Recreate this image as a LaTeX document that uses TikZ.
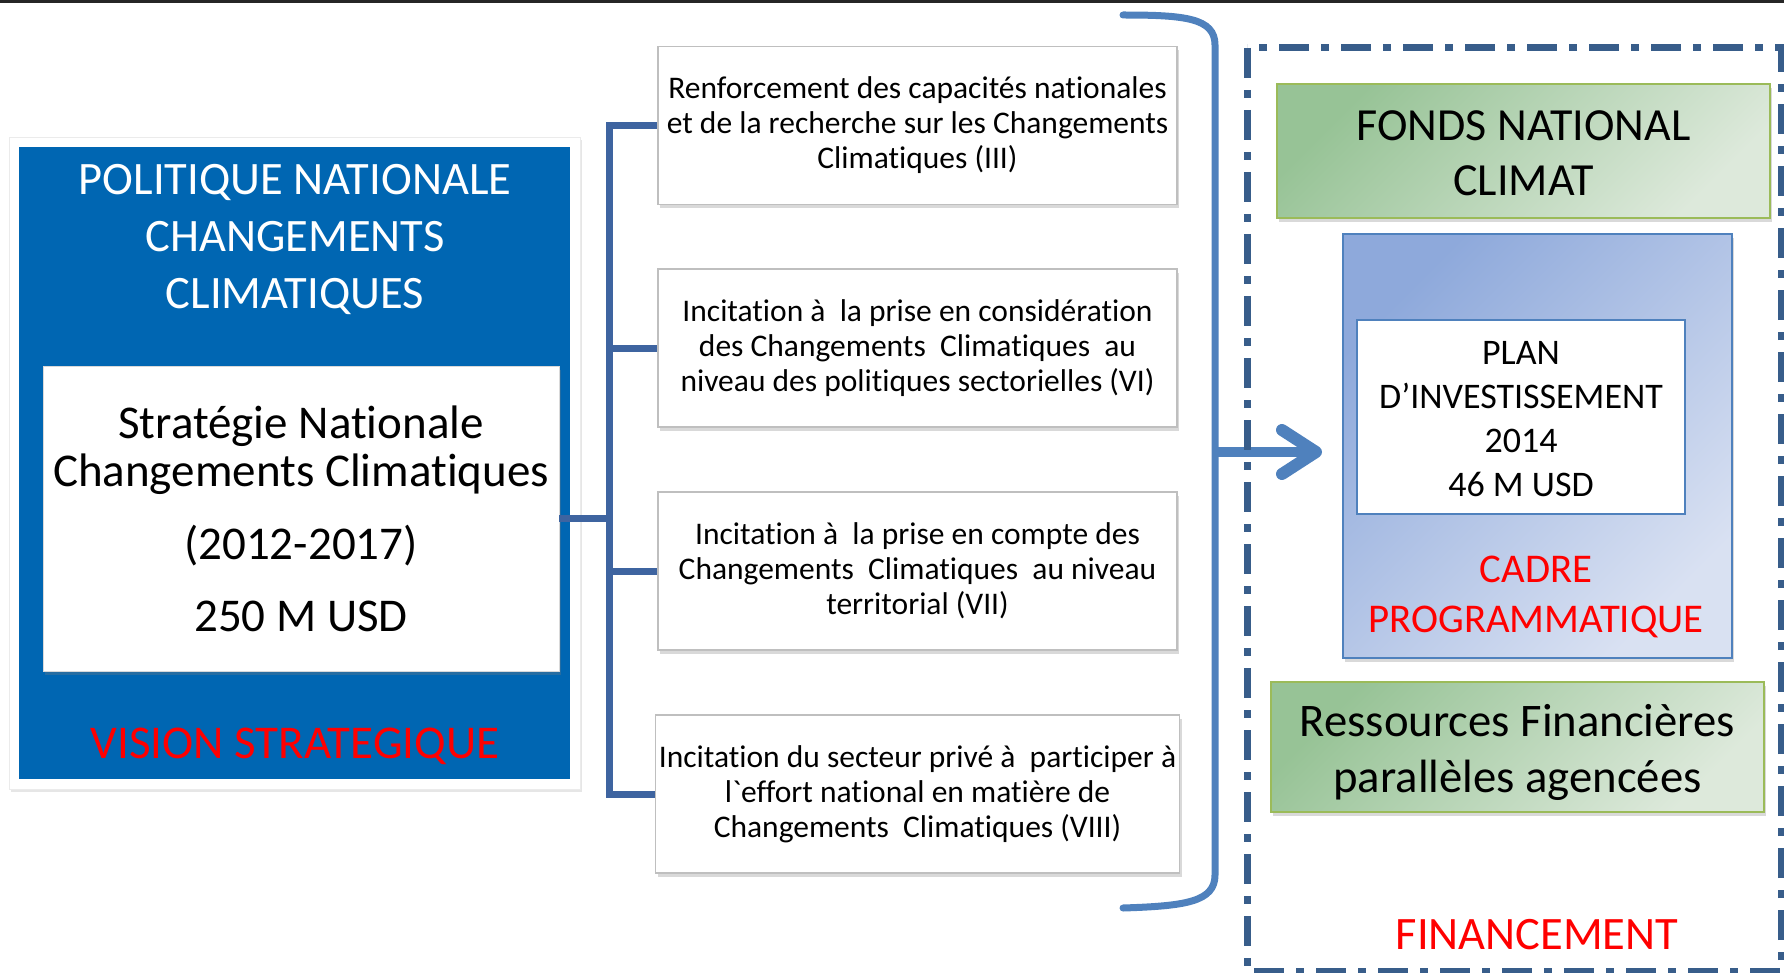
\documentclass[tikz,border=0pt]{standalone}
\usepackage{fontspec}
\setmainfont{Carlito}[Ligatures={TeXOff,CommonOff}]
\usetikzlibrary{arrows.meta,shadows,calc,positioning}

\definecolor{polblue}{HTML}{0066B2}
\definecolor{linkblue}{HTML}{3E64A0}
\definecolor{brblue}{HTML}{4F81BD}
\definecolor{dashblue}{HTML}{385D8A}
\definecolor{greenA}{HTML}{97C396}
\definecolor{greenB}{HTML}{DDE9DB}
\definecolor{greenedge}{HTML}{9BBB59}
\definecolor{cadreA}{HTML}{8EA9DB}
\definecolor{cadreB}{HTML}{D9E1F2}
\definecolor{vred}{HTML}{FF0000}

\begin{document}
\begin{tikzpicture}[x=1pt,y=-1pt,
    softshadow/.style={drop shadow={shadow xshift=2pt,shadow yshift=-4pt,opacity=0.3}},
    axebox/.style={draw=black!25,fill=white,line width=1.2pt,softshadow,
        minimum width=519pt,minimum height=158pt,align=center,
        font=\fontsize{31.5}{35}\selectfont},
    fundbox/.style={draw=greenedge,line width=2pt,top color=greenA,bottom color=greenB,
        shading angle=45,softshadow,minimum width=493pt},
    boxtext/.style={align=center,font=\fontsize{46}{55}\selectfont},
    redlabel/.style={text=vred,align=center},
    link/.style={draw=linkblue,line width=7pt},
    bracket/.style={draw=brblue,line width=7pt,line cap=round}]
       \useasboundingbox (0,0) rectangle (1784,973);
       \fill[black!85] (0,0) rectangle (1784,3);
       % vision strategique
       \node[draw=black!8,fill=white,minimum width=571pt,minimum height=652pt,
             drop shadow={shadow xshift=2pt,shadow yshift=-3pt,opacity=0.2}] (frame) at (294.5,463) {};
       \node[fill=polblue,minimum width=551pt,minimum height=632pt] (politique) at (294.5,463) {};
       \node[text=white,align=center,font=\fontsize{46.5}{57}\selectfont] (poltitle) at (295,239)
            {POLITIQUE NATIONALE\\CHANGEMENTS\\CLIMATIQUES};
       \node[fill=white,draw=black!15,softshadow,minimum width=516pt,minimum height=305pt,
             align=center,font=\fontsize{47}{48}\selectfont] (strat) at (301,518.5)
            {Stratégie Nationale\\Changements Climatiques\\[25pt](2012-2017)\\[24pt]250 M USD};
       \node[redlabel,font=\fontsize{47}{50}\selectfont] (vision) at (295,746) {VISION STRATEGIQUE};
       % axes
       \node[axebox] (axe1) at (917.5,125.5) {Renforcement des capacités nationales\\et de la recherche sur les Changements\\Climatiques (III)};
       \node[axebox] (axe2) at (917.5,348) {Incitation à\ \ la prise en considération\\des Changements\ \ Climatiques\ \ au\\niveau des politiques sectorielles (VI)};
       \node[axebox] (axe3) at (917.5,571) {Incitation à\ \ la prise en compte des\\Changements\ \ Climatiques\ \ au niveau\\territorial (VII)};
       \node[axebox] (axe4) at (917.5,794) {Incitation du secteur privé à\ \ participer à\\l`effort national en matière de\\Changements\ \ Climatiques (VIII)};
       \coordinate (jn) at (609,518.5);
       \draw[link] (strat.east) -- (jn);
       \foreach \a in {axe1,axe2,axe3,axe4}
           \draw[link] (jn) |- (\a.west);
       % bracket and arrow
       \coordinate (brtop) at (1123,15);
       \coordinate (brbot) at (1123,908);
       \coordinate (brmid) at (1215,452);
       \coordinate (arrtip) at (1322,452);
       \draw[bracket] (brtop) .. controls (1185,15) and (1215,18) .. (1215,45)
             -- (1215,875) .. controls (1215,902) and (1185,906) .. (brbot);
       \draw[draw=brblue,line width=10pt,-{Straight Barb[length=34pt,width=44pt,line width=12pt,round]}] (brmid) -- (arrtip);
       % financement
       \draw[dashblue,line width=7pt,dash pattern=on 30pt off 12pt on 8pt off 12pt] (1247,48) rectangle (1781,971);
       \node[fundbox,minimum height=134pt] (fonds) at (1523.5,151) {};
       \node[boxtext] (fondstxt) at ([yshift=-2pt]fonds.center) {FONDS NATIONAL\\CLIMAT};
       \node[draw=brblue,line width=1.5pt,top color=cadreA,bottom color=cadreB,shading angle=45,softshadow,
             minimum width=389pt,minimum height=424pt] (cadre) at (1537.5,446) {};
       \node[draw=brblue,line width=1.2pt,fill=white,minimum width=328pt,minimum height=194pt] (plan) at (1521,417) {};
       \node[align=center,font=\fontsize{36}{44}\selectfont] (plantxt) at ([yshift=-2pt]plan.center)
            {PLAN\\D’INVESTISSEMENT\\2014\\46 M USD};
       \node[redlabel,font=\fontsize{40.8}{50}\selectfont] (cadrelbl) at (1536,597) {CADRE\\PROGRAMMATIQUE};
       \node[fundbox,minimum height=130pt] (ressources) at (1517.5,747) {};
       \node[boxtext,font=\fontsize{46.7}{56}\selectfont] (resstxt) at ([yshift=-5pt]ressources.center)
            {Ressources Financières\\parallèles agencées};
       \node[redlabel,font=\fontsize{46.5}{50}\selectfont] (financement) at (1537,935) {FINANCEMENT};
\end{tikzpicture}
\end{document}
